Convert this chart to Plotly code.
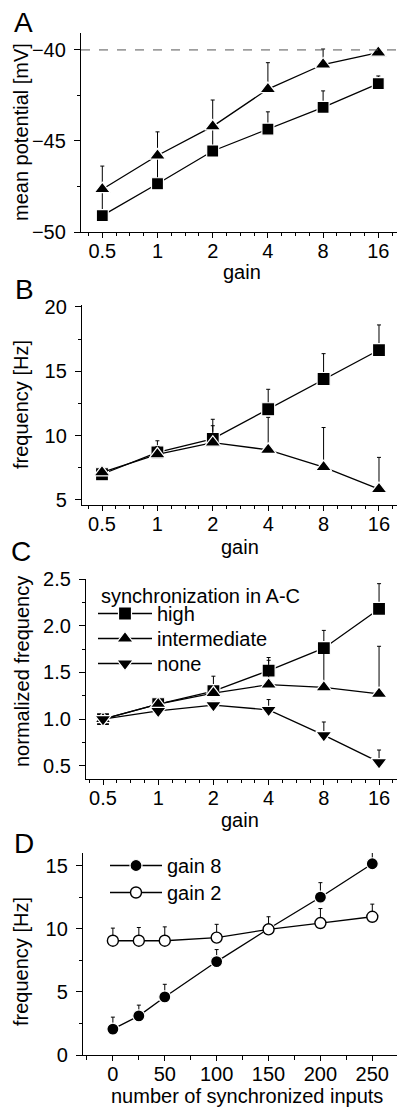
import plotly.graph_objects as go

# ---------------- data ----------------
gain = [0.5, 1, 2, 4, 8, 16]
gain_ticktext = ["0.5", "1", "2", "4", "8", "16"]

# Panel A: mean potential [mV]
A_square = [-49.1, -47.35, -45.55, -44.35, -43.15, -41.85]
A_square_err = [1.45, 1.5, 1.3, 0.95, 0.9, 0.42]
A_triangle = [-47.65, -45.8, -44.2, -42.15, -40.8, -40.15]
A_triangle_err = [1.27, 1.3, 1.45, 1.45, 0.85, 0.0]
A_threshold = -40

# Panel B: frequency [Hz]
B_square = [7.0, 8.7, 9.75, 12.05, 14.4, 16.65]
B_square_err = [0.0, 0.9, 1.52, 1.55, 1.97, 1.95]
B_triangle = [7.15, 8.55, 9.45, 8.9, 7.55, 5.85]
B_triangle_err = [0.0, 0.6, 1.32, 2.52, 3.08, 2.46]

# Panel C: normalized frequency
C_high = [1.0, 1.16, 1.30, 1.52, 1.76, 2.18]
C_high_err = [0.0, 0.03, 0.16, 0.14, 0.19, 0.27]
C_intermediate = [1.0, 1.16, 1.28, 1.37, 1.34, 1.27]
C_intermediate_err = [0.0, 0.0, 0.05, 0.26, 0.38, 0.51]
C_none = [1.0, 1.09, 1.15, 1.10, 0.83, 0.54]
C_none_err = [0.0, 0.0, 0.04, 0.11, 0.14, 0.13]
C_names = ["high", "intermediate", "none"]

# Panel D: frequency vs number of synchronized inputs
n_inputs = [0, 25, 50, 100, 150, 200, 250]
D_gain8 = [2.05, 3.1, 4.6, 7.4, 10.0, 12.5, 15.15]
D_gain8_err = [0.95, 0.85, 1.0, 0.95, 0.0, 1.15, 1.15]
D_gain2 = [9.05, 9.05, 9.05, 9.3, 9.95, 10.45, 10.95]
D_gain2_err = [1.0, 1.05, 1.1, 1.05, 1.0, 1.15, 1.0]
D_names = ["gain 8", "gain 2"]

# ---------------- layout helpers ----------------
W, H = 397, 1107
FONT = "Liberation Sans, Arial, Helvetica, sans-serif"
TICKFONT = 20
TITLEFONT = 20


def px_x(x):
    return x / W


def px_y(y):
    return 1 - y / H


def ydom(top, bottom):
    return [1 - bottom / H, 1 - top / H]


fig = go.Figure()

LINE = dict(color="black", width=1.3)


def err(vals):
    return dict(type="data", array=vals, arrayminus=[0] * len(vals),
                symmetric=False, color="black", thickness=1, width=2)


def add(x, y, e, symbol, size, xa, ya, name=None, legend=None, fill="black",
        outline="white", ow=1.2, show=False):
    fig.add_trace(go.Scatter(
        x=x, y=y, mode="lines+markers", name=name,
        line=LINE,
        marker=dict(symbol=symbol, size=size, color=fill,
                    line=dict(color=outline, width=ow)),
        error_y=err(e), xaxis=xa, yaxis=ya,
        showlegend=show, legend=legend, cliponaxis=False,
    ))


# Panel A
add(gain, A_square, A_square_err, "square", 12, "x", "y")
add(gain, A_triangle, A_triangle_err, "triangle-up", 14, "x", "y")
# Panel B
add(gain, B_square, B_square_err, "square", 13, "x2", "y2")
add(gain, B_triangle, B_triangle_err, "triangle-up", 14, "x2", "y2")
# Panel C (one legend box per entry so the row spacing can match)
add(gain, C_high, C_high_err, "square", 13, "x3", "y3", name=C_names[0], legend="legend", show=True)
add(gain, C_intermediate, C_intermediate_err, "triangle-up", 14, "x3", "y3", name=C_names[1], legend="legend2", show=True)
add(gain, C_none, C_none_err, "triangle-down", 14, "x3", "y3", name=C_names[2], legend="legend3", show=True)
# Panel D
add(n_inputs, D_gain8, D_gain8_err, "circle", 12, "x4", "y4", name=D_names[0], legend="legend4", show=True)
add(n_inputs, D_gain2, D_gain2_err, "circle", 11, "x4", "y4", name=D_names[1], legend="legend5",
    fill="white", outline="black", ow=1.4, show=True)

# minor tick positions on log gain axes (quarter doublings)
minor_gain = [0.5 * 2 ** (k / 4) for k in range(-1, 22) if k % 4 != 0]

common_x = dict(showline=True, linecolor="black", linewidth=1.3, ticks="outside",
                ticklen=5, tickwidth=1.2, tickcolor="black", showgrid=False,
                zeroline=False, tickfont=dict(size=TICKFONT, color="black", family=FONT),
                ticklabelstandoff=-4, automargin=False)
common_y = dict(showline=True, linecolor="black", linewidth=1.3, ticks="outside",
                ticklen=6, tickwidth=1.2, tickcolor="black", showgrid=False,
                zeroline=False, tickfont=dict(size=TICKFONT, color="black", family=FONT),
                ticklabelstandoff=4, automargin=False)

minor_log = dict(tickvals=minor_gain, ticks="outside", ticklen=3, tickcolor="black",
                 tickwidth=1, showgrid=False)


def logx(dom, rng, anchor):
    return dict(common_x, type="log", domain=dom, range=rng, anchor=anchor,
                tickvals=gain, ticktext=gain_ticktext, minor=minor_log)


def leg(x, row_center, itemwidth):
    return dict(x=px_x(x), y=px_y(row_center - 19), xanchor="left", yanchor="top",
                bgcolor="rgba(0,0,0,0)", itemwidth=itemwidth, tracegroupgap=0,
                font=dict(size=TITLEFONT, family=FONT, color="black"))


fig.update_layout(
    template="none",
    width=W, height=H,
    margin=dict(l=0, r=0, t=0, b=0, pad=0, autoexpand=False),
    paper_bgcolor="white", plot_bgcolor="white",
    font=dict(family=FONT, color="black", size=TITLEFONT),
    xaxis=logx([px_x(81), 1], [-0.4172, 1.3061], "y"),
    yaxis=dict(common_y, domain=ydom(33, 232), range=[-50, -39.07], anchor="x",
               tickvals=[-50, -45, -40], minor=dict(dtick=2.5, ticks="outside", ticklen=3,
                                                  tickcolor="black", showgrid=False)),
    xaxis2=logx([px_x(82), 1], [-0.4097, 1.302], "y2"),
    yaxis2=dict(common_y, domain=ydom(305, 505), range=[4.61, 20.15], anchor="x2",
                tickvals=[5, 10, 15, 20], minor=dict(dtick=2.5, ticks="outside", ticklen=3,
                                                    tickcolor="black", showgrid=False)),
    xaxis3=logx([px_x(86), 1], [-0.3937, 1.302], "y3"),
    yaxis3=dict(common_y, domain=ydom(579, 779), range=[0.36, 2.5], anchor="x3",
                tickvals=[0.5, 1.0, 1.5, 2.0, 2.5], tickformat=".1f",
                minor=dict(dtick=0.25, ticks="outside", ticklen=3, tickcolor="black",
                           showgrid=False)),
    xaxis4=dict(common_x, domain=[px_x(83), 1], range=[-28.8, 273.8], anchor="y4",
                tickvals=[0, 50, 100, 150, 200, 250],
                minor=dict(dtick=25, ticks="outside", ticklen=4, tickcolor="black",
                           showgrid=False)),
    yaxis4=dict(common_y, domain=ydom(853, 1055), range=[0, 16.0], anchor="x4",
                tickvals=[0, 5, 10, 15], minor=dict(dtick=2.5, ticks="outside", ticklen=3,
                                                   tickcolor="black", showgrid=False)),
    legend=leg(93, 613, 54),
    legend2=leg(93, 638, 54),
    legend3=leg(93, 663, 54),
    legend4=leg(105, 865, 52),
    legend5=leg(105, 892, 52),
    showlegend=True,
)

# dashed threshold line in panel A
fig.add_shape(type="line", xref="x domain", yref="y", x0=0, x1=1,
              y0=A_threshold, y1=A_threshold,
              line=dict(color="#555555", width=1, dash="dash"))

ann = []


def text(x, y, s, size=TITLEFONT, angle=0, xanchor="center"):
    ann.append(dict(x=px_x(x), y=px_y(y), xref="paper", yref="paper", text=s,
                    showarrow=False, xanchor=xanchor, yanchor="middle",
                    textangle=angle, font=dict(size=size, family=FONT, color="black")))


# panel letters
text(23, 22, "A", size=28)
text(24, 289, "B", size=28)
text(21, 551, "C", size=28)
text(24, 843, "D", size=28)
# axis titles
text(242, 272, "gain")
text(240, 547, "gain")
text(240, 820, "gain")
text(247, 1096, "number of synchronized inputs")
text(21, 132, "mean potential [mV]", angle=-90)
text(21, 405, "frequency [Hz]", angle=-90)
text(22, 672, "normalized frequency", angle=-90)
text(21, 962, "frequency [Hz]", angle=-90)
# legend heading in C
text(99, 596, "synchronization in A-C", xanchor="left")

fig.update_layout(annotations=ann)

post = (
    "var gd=document.getElementById('{plot_id}');"
    "document.documentElement.style.margin='0';"
    "document.documentElement.style.overflow='hidden';"
    "document.body.style.margin='0';document.body.style.overflow='hidden';"
    "gd.style.position='absolute';gd.style.top='0px';gd.style.left='0px';"
)

fig.write_html("out.html", config={"displayModeBar": False}, post_script=post)
